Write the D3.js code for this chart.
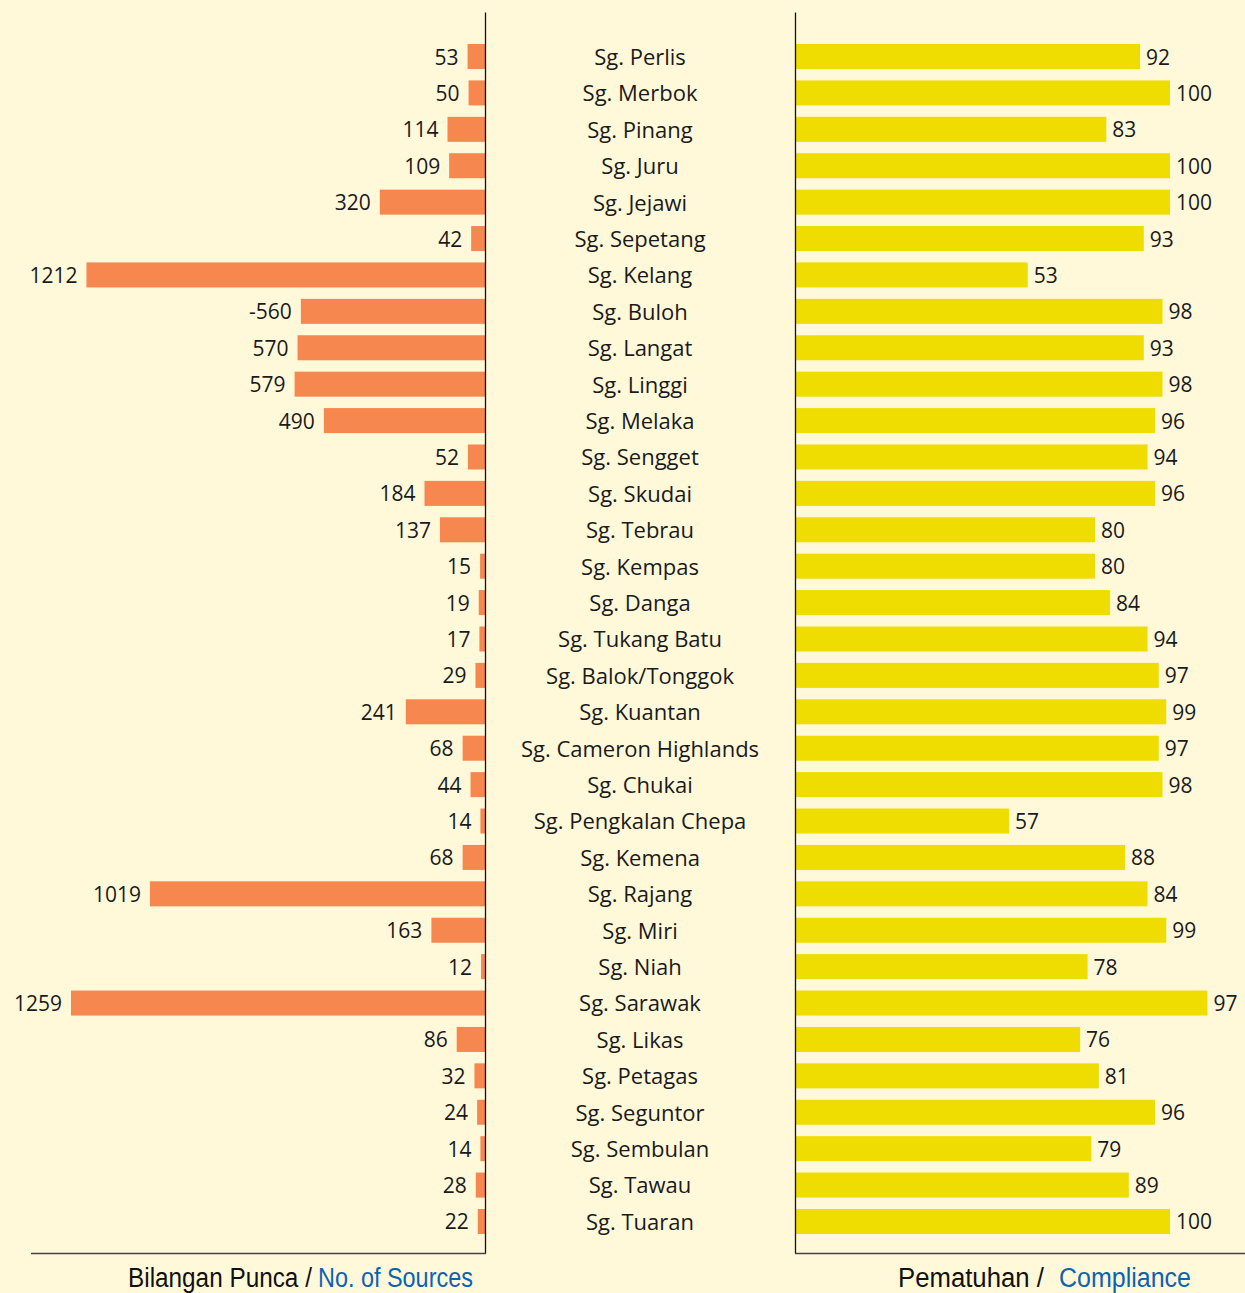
<!DOCTYPE html>
<html>
<head>
<meta charset="utf-8">
<script src="https://cdn.jsdelivr.net/npm/d3@7"></script>
<style>
  html, body { margin: 0; padding: 0; background: #FFF9DA; }
  svg { display: block; }
</style>
</head>
<body>
<svg id="chart" width="1245" height="1293"></svg>
<script>
const rivers = ["Sg. Perlis","Sg. Merbok","Sg. Pinang","Sg. Juru","Sg. Jejawi","Sg. Sepetang","Sg. Kelang","Sg. Buloh","Sg. Langat","Sg. Linggi","Sg. Melaka","Sg. Sengget","Sg. Skudai","Sg. Tebrau","Sg. Kempas","Sg. Danga","Sg. Tukang Batu","Sg. Balok/Tonggok","Sg. Kuantan","Sg. Cameron Highlands","Sg. Chukai","Sg. Pengkalan Chepa","Sg. Kemena","Sg. Rajang","Sg. Miri","Sg. Niah","Sg. Sarawak","Sg. Likas","Sg. Petagas","Sg. Seguntor","Sg. Sembulan","Sg. Tawau","Sg. Tuaran"];

// No. of Sources (as labelled)
const sources = [53,50,114,109,320,42,1212,-560,570,579,490,52,184,137,15,19,17,29,241,68,44,14,68,1019,163,12,1259,86,32,24,14,28,22];

// Compliance (%) as labelled
const compliance = [92,100,83,100,100,93,53,98,93,98,96,94,96,80,80,84,94,97,99,97,98,57,88,84,99,78,97,76,81,96,79,89,100];

// Compliance bar lengths as drawn in the original (a few differ from their labels)
const complianceDrawn = [92,100,83,100,100,93,62,98,93,98,96,94,96,80,80,84,94,97,99,97,98,57,88,94,99,78,110,76,81,96,79,89,100];

const leftTitle = ["Bilangan Punca /", "No. of Sources"];
const rightTitle = ["Pematuhan /", "Compliance"];

const svg = d3.select("#chart");
const W = 1245, H = 1293;
svg.append("rect").attr("width", W).attr("height", H).attr("fill", "#FFF9DA");

const rows = rivers.map((r,i)=>({name:r, src:sources[i], comp:compliance[i], compBar:complianceDrawn[i]}));

const y = d3.scaleBand().domain(rivers).range([38.3, 1239.7]).paddingInner(0.313).paddingOuter(0.157);
const xL = d3.scaleLinear().domain([0, 1259]).range([485, 71]);
const xR = d3.scaleLinear().domain([0, 100]).range([795.5, 1170]);

const orange = "#F5874F", yellow = "#EFDC00";
const valFont = "'Open Sans', 'Noto Sans', sans-serif";

// left bars
svg.append("g").selectAll("rect").data(rows).join("rect")
  .attr("x", d => xL(Math.abs(d.src)))
  .attr("y", d => y(d.name))
  .attr("width", d => xL(0) - xL(Math.abs(d.src)))
  .attr("height", y.bandwidth())
  .attr("fill", orange);

svg.append("g").selectAll("text").data(rows).join("text")
  .attr("x", d => xL(Math.abs(d.src)) - 9)
  .attr("y", d => y(d.name) + y.bandwidth()/2)
  .attr("dy", "0.38em")
  .attr("text-anchor", "end")
  .attr("font-family", valFont)
  .attr("font-size", 21)
  .attr("fill", "#1a1a1a")
  .text(d => d.src);

// right bars
svg.append("g").selectAll("rect").data(rows).join("rect")
  .attr("x", xR(0))
  .attr("y", d => y(d.name))
  .attr("width", d => xR(d.compBar) - xR(0))
  .attr("height", y.bandwidth())
  .attr("fill", yellow);

svg.append("g").selectAll("text").data(rows).join("text")
  .attr("x", d => xR(d.compBar) + 6)
  .attr("y", d => y(d.name) + y.bandwidth()/2)
  .attr("dy", "0.38em")
  .attr("text-anchor", "start")
  .attr("font-family", valFont)
  .attr("font-size", 21)
  .attr("fill", "#1a1a1a")
  .text(d => d.comp);

// category labels via axis
const ax = svg.append("g").attr("transform", "translate(640,0)")
  .call(d3.axisRight(y).tickSize(0).tickPadding(0));
ax.select(".domain").remove();
ax.selectAll("text")
  .attr("text-anchor", "middle")
  .attr("x", 0)
  .attr("dy", "0.38em")
  .attr("font-family", valFont)
  .attr("font-size", 22)
  .attr("fill", "#1a1a1a");

// frame lines
svg.append("line").attr("x1", 485.5).attr("x2", 485.5).attr("y1", 12.5).attr("y2", 1253.5)
  .attr("stroke", "#111").attr("stroke-width", 1.3);
svg.append("line").attr("x1", 31).attr("x2", 486).attr("y1", 1253.5).attr("y2", 1253.5)
  .attr("stroke", "#444").attr("stroke-width", 1.5);
svg.append("line").attr("x1", 795.5).attr("x2", 795.5).attr("y1", 12.5).attr("y2", 1253.5)
  .attr("stroke", "#111").attr("stroke-width", 1.3);
svg.append("line").attr("x1", 795).attr("x2", 1245).attr("y1", 1253.5).attr("y2", 1253.5)
  .attr("stroke", "#444").attr("stroke-width", 1.5);

// titles: condensed by horizontal scaling to the original's width
const tFont = "'Liberation Sans Narrow', 'Arial Narrow', 'Liberation Sans', Arial, sans-serif";
function title(parts, xs, widths, colors) {
  parts.forEach((p, i) => {
    const t = svg.append("text")
      .attr("x", 0).attr("y", 0)
      .attr("font-family", tFont)
      .attr("font-size", 28)
      .attr("fill", colors[i])
      .text(p);
    const natural = t.node().getComputedTextLength();
    const sx = widths[i] / natural;
    t.attr("transform", `translate(${xs[i]},1287) scale(${sx},1)`);
  });
}
title(leftTitle, [128, 318], [184, 155], ["#111", "#0B63B2"]);
title(rightTitle, [898, 1059], [146, 132], ["#111", "#0B63B2"]);
</script>
</body>
</html>
